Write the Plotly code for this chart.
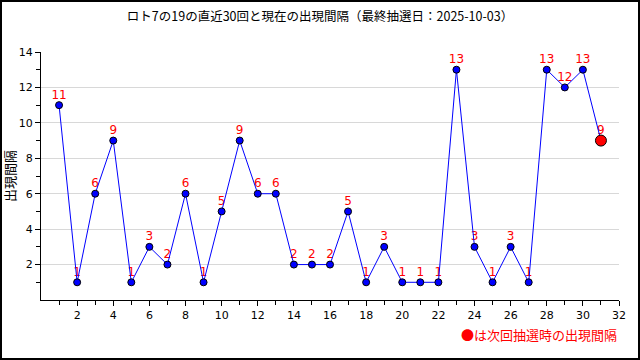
import plotly.graph_objects as go

draws = list(range(1, 31))
intervals = [11, 1, 6, 9, 1, 3, 2, 6, 1, 5, 9, 6, 6, 2, 2, 2, 5, 1, 3, 1, 1, 1, 13, 3, 1, 3, 1, 13, 12, 13]
next_draw = 31
next_interval = 9
x_ticks = list(range(2, 33, 2))
y_ticks = list(range(2, 15, 2))
title_text = "ロト7の19の直近30回と現在の出現間隔（最終抽選日：2025-10-03）"
y_title = "出現間隔"
note_text = "●は次回抽選時の出現間隔"

W, H = 640, 360
L, R, T, B = 41, 21, 52, 60
pw, ph = W - L - R, H - T - B

all_x = draws + [next_draw]
all_y = intervals + [next_interval]

fig = go.Figure()
# labels (behind lines), with invisible markers to lift text
fig.add_trace(go.Scatter(
    x=all_x, y=all_y, mode="markers+text", text=[str(v) for v in all_y],
    textposition="top center", cliponaxis=False,
    marker=dict(size=4, color="rgba(0,0,0,0)"),
    textfont=dict(color="#ff0000", size=12, family="DejaVu Sans"),
    hoverinfo="skip", showlegend=False))
fig.add_trace(go.Scatter(
    x=all_x, y=all_y, mode="lines", line=dict(color="#0000ff", width=1),
    showlegend=False))
fig.add_trace(go.Scatter(
    x=draws, y=intervals, mode="markers",
    marker=dict(color="#0000ff", size=7, line=dict(color="black", width=1)),
    showlegend=False))
fig.add_trace(go.Scatter(
    x=[next_draw], y=[next_interval], mode="markers",
    marker=dict(color="#ff0000", size=11, line=dict(color="black", width=1)),
    showlegend=False))

tickfont = dict(family="DejaVu Sans", size=11, color="black")
fig.update_xaxes(range=[0, 32], tickmode="array", tickvals=x_ticks,
                 showgrid=False, zeroline=False, showline=True,
                 linecolor="black", linewidth=1, ticks="outside",
                 ticklen=5, tickcolor="black", tickfont=tickfont,
                 automargin=False,
                 minor=dict(ticks="outside", ticklen=4, tickcolor="black",
                            tick0=1, dtick=2, showgrid=False))
fig.update_yaxes(range=[0, 14], tickmode="array", tickvals=y_ticks,
                 showgrid=True, gridcolor="#d8d8d8", gridwidth=1,
                 zeroline=False, showline=True, linecolor="black",
                 linewidth=1, ticks="outside", ticklen=5,
                 tickcolor="black", tickfont=tickfont, automargin=False,
                 title=dict(text=y_title, font=dict(family="Noto Sans CJK JP", size=13, color="black"), standoff=8),
                 minor=dict(ticks="outside", ticklen=4, tickcolor="black",
                            tick0=1, dtick=2, showgrid=False))

fig.add_annotation(text=note_text, xref="paper", yref="paper",
                   x=(619 - L) / pw, y=(300 - 334) / ph, xanchor="right",
                   yanchor="middle", showarrow=False,
                   font=dict(family="Noto Sans CJK JP", size=13, color="#ff0000"))

fig.add_shape(type="rect", xref="paper", yref="paper",
              x0=(1 - L) / pw, x1=(639 - L) / pw,
              y0=(300 - 359) / ph, y1=(300 - 1) / ph,
              line=dict(color="black", width=2), fillcolor="rgba(0,0,0,0)")

fig.update_layout(
    width=W, height=H, margin=dict(l=L, r=R, t=T, b=B, autoexpand=False),
    paper_bgcolor="white", plot_bgcolor="white",
    title=dict(text=title_text, x=0.5, xanchor="center", y=1 - 17 / H,
               yanchor="middle",
               font=dict(family="Noto Sans CJK JP", size=12.5, color="black")),
    showlegend=False)

fig.write_html("out.html", config={"displayModeBar": False},
               post_script="document.body.style.margin='0';document.body.style.overflow='hidden';")
